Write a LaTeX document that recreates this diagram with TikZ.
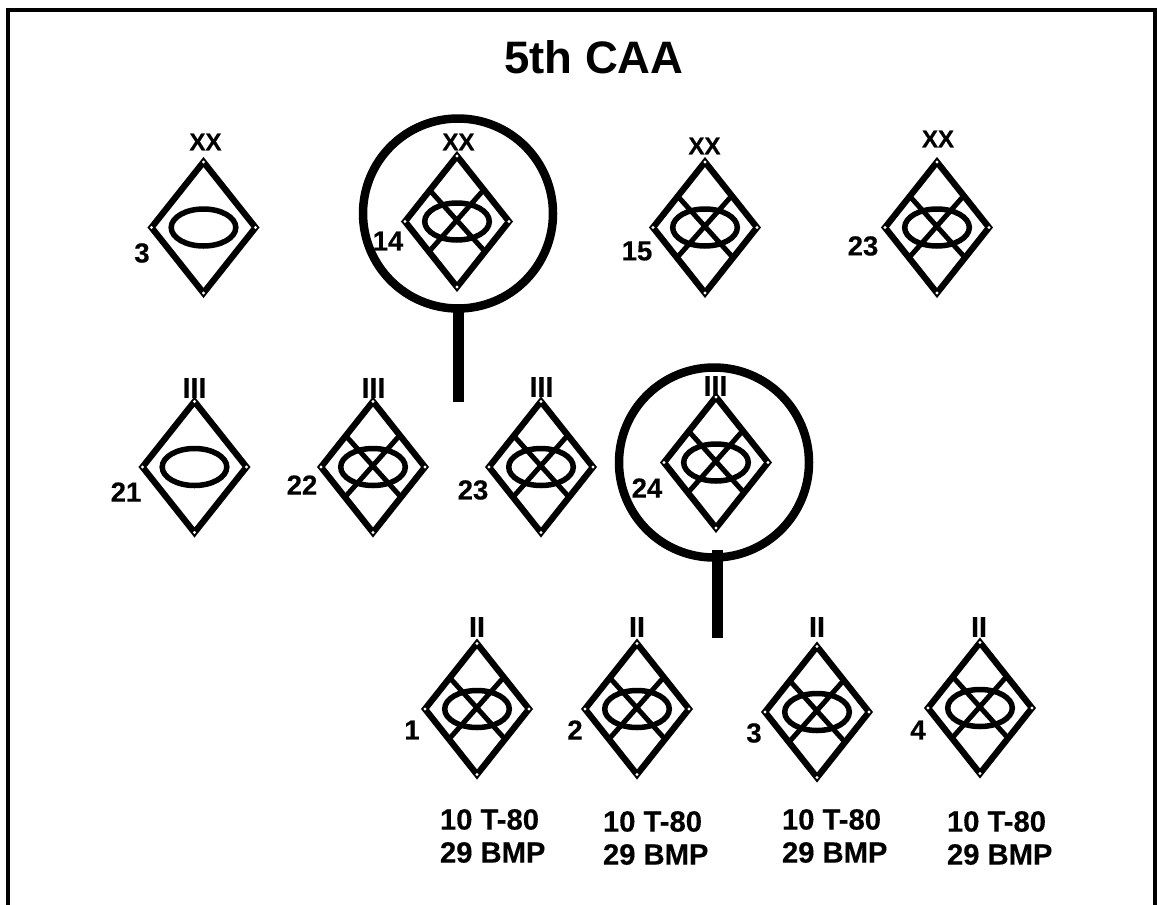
\documentclass[tikz,border=0pt]{standalone}
\usepackage{fontspec}
\setmainfont{Liberation Sans}[BoldFont={* Bold}]
\newfontfamily\heavyfont{Liberation Sans Bold}[FakeBold=0.35]
\tikzset{
  edgeline/.style={draw=black,line width=6.3pt,line join=miter,fill=none},
  crossline/.style={draw=black,line width=5pt},
  ovalline/.style={draw=black,line width=5.5pt,fill=none},
  ringnode/.style={circle,draw=black,line width=8.5pt,minimum size=190pt,inner sep=0pt,outer sep=0pt},
  barline/.style={draw=black,line width=11pt},
  framing/.style={draw=black,line width=3.8pt},
  lbl/.style={inner sep=0pt,outer sep=0pt,font=\fontsize{27.5}{30}\selectfont\heavyfont},
  echelon/.style={inner sep=0pt,outer sep=0pt,font=\fontsize{28.5}{30}\selectfont\heavyfont},
  divmark/.style={inner sep=0pt,outer sep=0pt,font=\fontsize{24}{30}\selectfont\heavyfont},
  strength/.style={inner sep=0pt,outer sep=0pt,anchor=west,align=left,font=\fontsize{29.2}{33}\selectfont\heavyfont},
  titletext/.style={inner sep=0pt,outer sep=0pt,font=\fontsize{45.5}{48}\selectfont\bfseries},
}
% name, cx, cy
\newcommand\plainunit[3]{%
  \begin{scope}[shift={(#2,#3)}]
    \coordinate (#1) at (0,0);
    \draw[edgeline] (0,-65.5) -- (52,0) -- (0,65.5) -- (-52,0) -- cycle;
    \draw[ovalline] (0,0) ellipse [x radius=32.3,y radius=18.5];
    \foreach \p in {(0,-65.5),(52,0),(0,65.5),(-52,0)} \fill[white] \p circle (1.6);
  \end{scope}}
\newcommand\mechunit[3]{%
  \plainunit{#1}{#2}{#3}%
  \begin{scope}[shift={(#2,#3)}]
    \draw[crossline] (-27,-31) -- (27,29);
    \draw[crossline] (27,-32) -- (-27,29);
  \end{scope}}
\begin{document}
\begin{tikzpicture}[x=1pt,y=-1pt]
\useasboundingbox (0,0) rectangle (1157,905);
\fill[white] (0,0) rectangle (1157,905);
\coordinate (fa) at (8,905);
\coordinate (fb) at (8,10);
\coordinate (fc) at (1155,10);
\coordinate (fd) at (1155,905);
\draw[framing] (fa) -- (fb) -- (fc) -- (fd);
\node[titletext] (title) at (594,57) {5th CAA};
% row 1
\plainunit{d1}{203.5}{227.5}
\mechunit{d2}{457}{221.5}
\mechunit{d3}{705}{227.5}
\mechunit{d4}{937}{227.5}
\node[divmark] (e1) at (205.5,142) {XX};
\node[divmark] (e2) at (458.5,142) {XX};
\node[divmark] (e3) at (704.5,146) {XX};
\node[divmark] (e4) at (938,139) {XX};
\node[lbl] (n1) at (142,253) {3};
\node[lbl] (n2) at (388,241) {14};
\node[lbl] (n3) at (637,251) {15};
\node[lbl] (n4) at (863,246) {23};
\node[ringnode] (r1) at (458,213.5) {};
\coordinate (r1end) at (458,402);
\draw[barline] (r1.south) -- (r1end);
% row 2
\plainunit{d5}{194.5}{467}
\mechunit{d6}{373}{467}
\mechunit{d7}{541}{467}
\mechunit{d8}{716}{462.5}
\node[echelon] (e5) at (194.5,388) {III};
\node[echelon] (e6) at (373.5,388) {III};
\node[echelon] (e7) at (541.5,387) {III};
\node[echelon] (e8) at (715.5,386) {III};
\node[lbl] (n5) at (126,492) {21};
\node[lbl] (n6) at (302,485) {22};
\node[lbl] (n7) at (473,490) {23};
\node[lbl] (n8) at (647,488) {24};
\node[ringnode] (r2) at (714,462.5) {};
\coordinate (r2top) at (717.5,550);
\coordinate (r2end) at (717.5,638);
\draw[barline] (r2top) -- (r2end);
% row 3
\mechunit{d9}{477}{709}
\mechunit{d10}{637}{709}
\mechunit{d11}{817}{712}
\mechunit{d12}{980}{708}
\node[echelon] (e9) at (477,627) {II};
\node[echelon] (e10) at (637,627) {II};
\node[echelon] (e11) at (817,627) {II};
\node[echelon] (e12) at (979,627) {II};
\node[lbl] (n9) at (412,730) {1};
\node[lbl] (n10) at (575,730) {2};
\node[lbl] (n11) at (754,733) {3};
\node[lbl] (n12) at (918,730) {4};
\node[strength] (s1) at (440,836) {10 T-80\\29 BMP};
\node[strength] (s2) at (603,838) {10 T-80\\29 BMP};
\node[strength] (s3) at (782,836) {10 T-80\\29 BMP};
\node[strength] (s4) at (947,838) {10 T-80\\29 BMP};
\end{tikzpicture}
\end{document}
